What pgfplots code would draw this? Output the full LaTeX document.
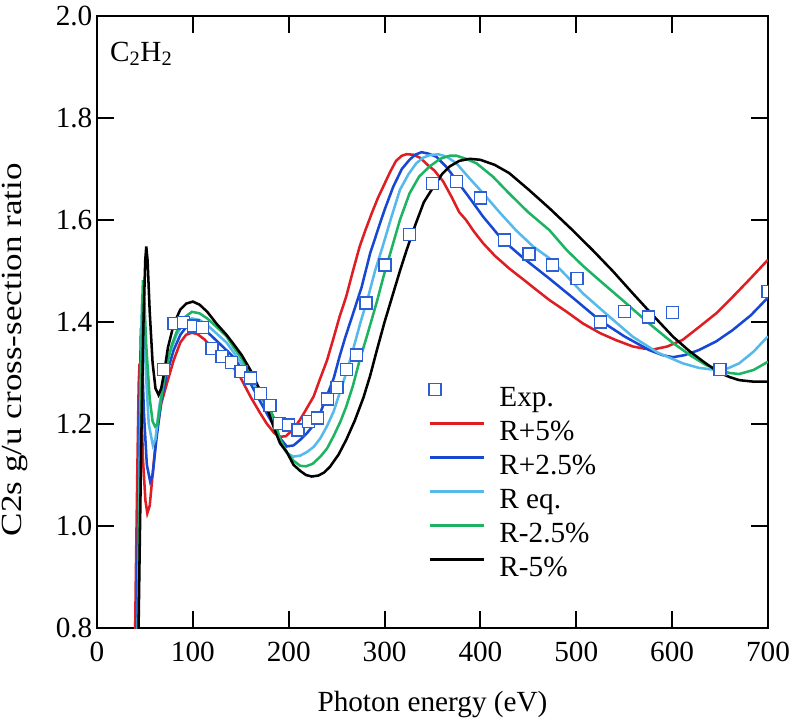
\documentclass[border=0pt]{standalone}
\usepackage{fontspec}
\setmainfont{Liberation Serif}
\usepackage{graphicx}
\usepackage{pgfplots}
\pgfplotsset{compat=1.18}

\definecolor{cRed}{RGB}{222,30,35}
\definecolor{cBlue}{RGB}{22,72,212}
\definecolor{cLight}{RGB}{85,185,235}
\definecolor{cGreen}{RGB}{28,180,98}
\definecolor{cExp}{RGB}{45,95,212}

\newcommand{\chartfont}{\fontsize{22}{26}\selectfont}

\begin{document}
\begin{tikzpicture}
\begin{axis}[
    scale only axis,
    width=503.25bp, height=459bp,
    xmin=0, xmax=700, ymin=0.8, ymax=2.0,
    xtick={0,100,...,700},
    ytick={0.8,1.0,1.2,1.4,1.6,1.8,2.0},
    yticklabel style={/pgf/number format/.cd, fixed, fixed zerofill, precision=1},
    /pgf/number format/assume math mode=true,
    tick align=inside,
    major tick length=12.75bp,
    minor tick num=0,
    tick style={line width=1.5bp, black},
    axis line style={line width=1.5bp},
    tick label style={font=\chartfont},
    xticklabel style={yshift=-7bp},
    label style={font=\chartfont},
    xlabel={Photon energy (eV)},
    xlabel style={at={(axis description cs:0.5,0)}, anchor=base, yshift=-62.25bp},
    ylabel={\scalebox{1.2}[1]{C2s g/u cross-section ratio}},
    ylabel style={at={(axis description cs:-0.1222,0.455)}, anchor=center, inner sep=0pt},
    legend cell align=left,
    legend style={draw=none, fill=none, font=\chartfont, inner sep=0pt,
        at={(axis description cs:0.4933,0.400)}, anchor=north west,
        nodes={inner sep=0pt, text height=17bp, text depth=5bp},
        row sep=3.5bp},
    /tikz/every odd column/.append style={column sep=10.5bp},
    legend image code/.code={\draw[#1] (0bp,7bp) -- (41bp,7bp);},
    every axis plot/.append style={line width=1.9bp},
]

\addlegendimage{legend image code/.code={\draw[only marks, mark=square*, mark size=4.5bp,
    draw=cExp, fill=white, line width=1bp] plot coordinates {(4bp,7bp)};}}
\addlegendentry{Exp.}

% R+5%
\addplot[cRed] coordinates {
(39.5,0.75) (40.5,0.9) (42,1.1) (43.5,1.28) (44.4,1.319) (46,1.25) (48,1.13) (50.5,1.05)
(52.5,1.025) (55,1.04) (58,1.10) (62,1.18) (67,1.24) (73,1.28) (80,1.325) (87,1.36)
(93,1.375) (99,1.379) (105,1.376) (112,1.366) (120,1.35) (130,1.333) (142,1.312) (150,1.29)
(160,1.254) (170,1.222) (177,1.201) (185,1.182) (191,1.175) (197,1.176) (205,1.19) (212,1.209)
(218,1.228) (226,1.254) (232,1.285) (240,1.325) (247,1.37) (253,1.41) (260,1.45) (267,1.50)
(274,1.548) (280,1.58) (287,1.615) (293,1.643) (299,1.667) (306,1.695) (312,1.716) (318,1.726)
(323,1.729) (330,1.728) (337,1.722) (345,1.708) (352,1.697) (361,1.676) (370,1.645) (378,1.615)
(385,1.60) (393,1.578) (403,1.554) (415,1.53) (430,1.505) (445,1.483) (455,1.468) (472,1.443)
(490,1.42) (507,1.397) (525,1.378) (542,1.364) (559,1.352) (570,1.348) (580,1.346) (595,1.352)
(611,1.365) (628,1.39) (646,1.417) (662,1.447) (680,1.482) (700,1.522)
};
\addlegendentry{R+5\%}

% R+2.5%
\addplot[cBlue] coordinates {
(41,0.75) (42,0.9) (43.5,1.1) (45,1.3) (45.8,1.388) (47,1.33) (49,1.22) (52,1.12)
(55.5,1.087) (58,1.1) (62,1.17) (67,1.245) (73,1.30) (80,1.345) (87,1.375) (93,1.39)
(99,1.396) (106,1.393) (113,1.384) (121,1.37) (131,1.352) (142,1.332) (151,1.308) (160,1.280)
(170,1.245) (177,1.221) (185,1.195) (191,1.172) (198,1.156) (205,1.158) (212,1.169) (219,1.182)
(226,1.198) (233,1.222) (240,1.256) (247,1.29) (253,1.332) (259,1.37) (266,1.41) (276,1.468)
(285,1.535) (292,1.575) (300,1.62) (309,1.665) (318,1.70) (326,1.718) (332,1.728) (338.5,1.733)
(346,1.73) (354,1.724) (364,1.705) (375,1.678) (388,1.645) (403,1.606) (423,1.561) (445,1.525)
(472,1.485) (498,1.445) (524,1.404) (550,1.372) (576,1.345) (590,1.335) (601,1.331) (613,1.335)
(628,1.345) (646,1.362) (663,1.384) (682,1.413) (700,1.448)
};
\addlegendentry{R+2.5\%}

% R eq.
\addplot[cLight] coordinates {
(42,0.75) (43.5,0.95) (45,1.2) (46.5,1.40) (47.3,1.455) (48.5,1.42) (51,1.30) (54,1.2)
(58.3,1.158) (61,1.17) (65,1.235) (70,1.29) (76,1.34) (83,1.375) (90,1.397) (99,1.407)
(107,1.404) (115,1.394) (125,1.377) (135,1.36) (142,1.342) (151,1.318) (160,1.29) (169,1.258)
(177,1.234) (185,1.2) (191,1.165) (198,1.143) (205,1.136) (212,1.138) (219,1.145) (226,1.155)
(233,1.172) (240,1.196) (247,1.225) (253,1.26) (260,1.30) (267,1.345) (275,1.40) (283,1.45)
(290,1.50) (298,1.548) (307,1.605) (316,1.659) (325,1.69) (333,1.711) (340,1.722) (347,1.727)
(356,1.729) (365,1.724) (375,1.711) (388,1.683) (403,1.652) (420,1.615) (437,1.58) (455,1.548)
(472,1.525) (490,1.49) (507,1.456) (533,1.413) (559,1.371) (585,1.34) (611,1.319) (628,1.31)
(646,1.306) (658,1.309) (670,1.319) (685,1.342) (700,1.372)
};
\addlegendentry{R eq.}

% R-2.5%
\addplot[cGreen] coordinates {
(42.5,0.75) (44,0.95) (45.5,1.2) (47,1.42) (47.9,1.482) (49,1.46) (51.5,1.35) (55,1.25)
(58,1.205) (60.7,1.195) (63,1.2) (67,1.25) (72,1.31) (78,1.355) (85,1.39) (92,1.41)
(99,1.42) (107,1.417) (115,1.407) (125,1.39) (135,1.372) (142,1.352) (151,1.328) (160,1.299)
(169,1.27) (177,1.244) (185,1.21) (191,1.17) (198,1.145) (205,1.128) (212,1.118) (218,1.117)
(225,1.122) (233,1.136) (240,1.152) (247,1.177) (254,1.205) (260,1.234) (267,1.275) (274,1.325)
(282,1.375) (292,1.44) (299,1.49) (306,1.535) (316,1.60) (326,1.652) (336,1.685) (347,1.705)
(358,1.72) (368,1.726) (375,1.726) (385,1.72) (396,1.711) (413,1.685) (430,1.652) (450,1.615)
(472,1.58) (490,1.541) (507,1.51) (524,1.482) (550,1.44) (576,1.397) (600,1.36) (621,1.332)
(636,1.315) (649,1.306) (660,1.300) (670,1.298) (685,1.306) (700,1.322)
};
\addlegendentry{R-2.5\%}

% R-5%
\addplot[black] coordinates {
(43,0.75) (44.5,0.95) (46.5,1.2) (48.5,1.40) (50.3,1.52) (51.4,1.548) (52.8,1.52) (55,1.42)
(58,1.32) (61,1.27) (64.2,1.257) (67,1.27) (70,1.3) (74,1.35) (80,1.395) (86.8,1.424)
(93,1.436) (100,1.440) (107,1.434) (115,1.42) (125,1.396) (135,1.375) (142,1.358) (151,1.335)
(160,1.306) (169,1.27) (177,1.234) (185,1.19) (191,1.162) (198,1.145) (205,1.12) (212,1.108)
(218,1.1) (224,1.097) (231,1.099) (237,1.105) (243,1.116) (252,1.14) (260,1.169) (269,1.207)
(278,1.252) (285,1.295) (292,1.345) (300,1.40) (308,1.45) (316,1.50) (323,1.541) (332,1.59)
(341,1.635) (351,1.665) (360,1.69) (368,1.705) (378,1.716) (389,1.720) (400,1.718) (415,1.708)
(430,1.692) (450,1.66) (472,1.623) (495,1.582) (517,1.541) (538,1.50) (559,1.456) (580,1.413)
(601,1.371) (618,1.343) (635,1.319) (650,1.300) (660,1.292) (670,1.286) (685,1.283) (700,1.283)
};
\addlegendentry{R-5\%}

% experiment
\addplot[forget plot, only marks, mark=square*, mark size=4.5bp, draw=cExp, fill=white,
    line width=1bp, clip mode=individual] coordinates {
(69.4,1.307) (80.5,1.397) (90.2,1.399) (100.6,1.392) (110.4,1.389) (120.1,1.348) (130.5,1.332)
(140.6,1.320) (150.3,1.303) (160.4,1.290) (170.4,1.260) (180.5,1.236) (190.2,1.201) (200,1.198)
(209.7,1.188) (220.8,1.205) (230.2,1.212) (240.6,1.249) (250.3,1.271) (260.4,1.307) (270.4,1.335)
(280.5,1.437) (300.3,1.512) (325.7,1.571) (350,1.671) (375,1.675) (400,1.643) (425.3,1.561)
(450.6,1.533) (475,1.512) (500.6,1.485) (525.3,1.400) (550,1.420) (575.6,1.410) (600.3,1.419)
(650,1.307) (700,1.460)
};

\node[anchor=north west, inner sep=0pt, font=\chartfont] at (rel axis cs:0.019,0.958)
    {C\textsubscript{2}H\textsubscript{2}};
\end{axis}
\pgfresetboundingbox
\path[use as bounding box] ([xshift=-72.75bp,yshift=-70.5bp]current axis.south west)
    rectangle ([xshift=18.75bp,yshift=12bp]current axis.north east);
\end{tikzpicture}
\end{document}
